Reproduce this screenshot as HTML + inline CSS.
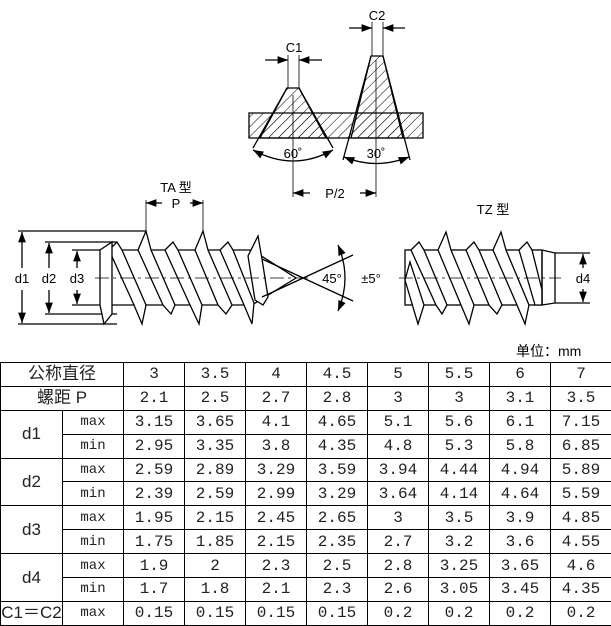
<!DOCTYPE html>
<html><head><meta charset="utf-8"><style>
html,body{margin:0;padding:0;background:#fff;width:611px;height:626px;overflow:hidden;position:relative}
svg{position:absolute;left:0;top:0}
table{position:absolute;left:0;top:362px;border-collapse:collapse;table-layout:fixed;width:611px;font-family:"Liberation Mono","Noto Sans CJK SC",monospace;font-size:16px;color:#222}
td{border:1.5px solid #000;height:22.4px;padding:0;text-align:center;line-height:22px}
tr{height:23.9px}
.cn{font-family:"Liberation Sans","Noto Sans CJK SC",sans-serif;font-size:17px}
.sm{font-size:14px}
.unit{position:absolute;left:516px;top:341px;font-family:"Liberation Sans","Noto Sans CJK SC",sans-serif;font-size:14px}
</style></head><body>
<svg width="611" height="362" viewBox="0 0 611 362" font-family="Liberation Sans, Noto Sans CJK SC, sans-serif">
<defs>
<pattern id="h" width="7" height="7" patternUnits="userSpaceOnUse" patternTransform="rotate(45)"><line x1="0" y1="0" x2="0" y2="7" stroke="#000" stroke-width="1"/></pattern>
<marker id="a" markerWidth="8" markerHeight="6" refX="8" refY="3" orient="auto-start-reverse"><path d="M0,0 L8,3 L0,6 z" fill="#000"/></marker>
</defs>
<g stroke="#000" fill="none" stroke-width="1.3">
<path d="M249,113 H423 V138 H249 Z" fill="url(#h)"/>
<path d="M287,88 H299 L326,138 H260 Z" fill="url(#h)"/>
<path d="M371,56 H383 L403,138 H351 Z" fill="url(#h)"/>
<line x1="287" y1="88" x2="253" y2="148"/><line x1="299" y1="88" x2="333" y2="148"/>
<line x1="371" y1="56" x2="343" y2="160"/><line x1="383" y1="56" x2="410" y2="160"/>
<path d="M253,150 Q293,172 333,150" marker-start="url(#a)" marker-end="url(#a)"/>
<path d="M344,157 Q376,170 409,157" marker-start="url(#a)" marker-end="url(#a)"/>
<line x1="293" y1="95" x2="293" y2="197" stroke-width="0.8"/>
<line x1="376" y1="60" x2="376" y2="197" stroke-width="0.8"/>
<line x1="288" y1="88" x2="288" y2="55" stroke-width="0.8"/><line x1="299" y1="88" x2="299" y2="55" stroke-width="0.8"/>
<line x1="265" y1="60" x2="288" y2="60" marker-end="url(#a)"/><line x1="322" y1="60" x2="299" y2="60" marker-end="url(#a)"/>
<line x1="372" y1="56" x2="372" y2="22" stroke-width="0.8"/><line x1="383" y1="56" x2="383" y2="22" stroke-width="0.8"/>
<line x1="349" y1="28" x2="372" y2="28" marker-end="url(#a)"/><line x1="405" y1="28" x2="383" y2="28" marker-end="url(#a)"/>
<line x1="310" y1="193" x2="293" y2="193" marker-end="url(#a)"/><line x1="360" y1="193" x2="376" y2="193" marker-end="url(#a)"/>

<line x1="18" y1="231" x2="146" y2="231"/><line x1="18" y1="324" x2="117" y2="324"/>
<line x1="45" y1="242" x2="117" y2="242"/><line x1="45" y1="314" x2="117" y2="314"/>
<line x1="72" y1="250" x2="105" y2="250"/><line x1="72" y1="305" x2="105" y2="305"/>
<line x1="22" y1="232" x2="22" y2="268" marker-start="url(#a)"/><line x1="22" y1="290" x2="22" y2="323" marker-end="url(#a)"/>
<line x1="49" y1="243" x2="49" y2="268" marker-start="url(#a)"/><line x1="49" y1="290" x2="49" y2="313" marker-end="url(#a)"/>
<line x1="77" y1="251" x2="77" y2="268" marker-start="url(#a)"/><line x1="77" y1="290" x2="77" y2="304" marker-end="url(#a)"/>
<line x1="146" y1="231" x2="146" y2="200" stroke-width="0.8"/><line x1="203" y1="231" x2="203" y2="200" stroke-width="0.8"/>
<line x1="162" y1="203" x2="146" y2="203" marker-end="url(#a)"/><line x1="190" y1="203" x2="203" y2="203" marker-end="url(#a)"/>
<path d="M105,250 H252 L296,278 L252,305 H105 Z" fill="#fff"/>
<g fill="#fff">
<polygon points="109,250 117,242 122,250 146,305 142,324 134,305"/>
<polygon points="138,250 146,231 151,250 175,305 171,314 163,305"/>
<polygon points="165,250 173,242 178,250 202,305 199,324 190,305"/>
<polygon points="195,250 203,231 208,250 232,305 226,314 218,305"/>
<polygon points="220,250 228,242 233,250 254,303 252,324 244,305"/>
<polygon points="248,256 258,236 262,259 268,297 263,305 255,300"/>
<polygon points="100,250 112,242 112,314 104,324 100,305"/>
</g>
<line x1="95" y1="278" x2="308" y2="278" stroke-dasharray="14,4,3,4" stroke-width="0.8"/>
<line x1="262" y1="259" x2="353" y2="301"/><line x1="262" y1="297" x2="353" y2="255"/>
<path d="M338,245 Q352,278 338,311" marker-start="url(#a)" marker-end="url(#a)"/>

<rect x="405" y="250" width="137" height="55" fill="#fff"/>
<g fill="#fff">
<polygon points="411,250 419,242 424,250 447,305 442,314 436,305"/>
<polygon points="438,250 446,232 451,250 474,305 469,324 461,305"/>
<polygon points="466,250 474,242 479,250 502,305 497,314 489,305"/>
<polygon points="493,250 501,232 506,250 529,305 525,324 517,305"/>
<polygon points="519,250 527,242 532,250 542,290 542,305 535,305"/>
<polygon points="405,280 418,324 424,305 410,262"/>
</g>
<path d="M542,250 L555,253 L555,303 L542,305" />
<line x1="542" y1="250" x2="542" y2="305"/>
<line x1="555" y1="253" x2="590" y2="253"/><line x1="555" y1="303" x2="590" y2="303"/>
<line x1="583" y1="254" x2="583" y2="268" marker-start="url(#a)"/><line x1="583" y1="289" x2="583" y2="302" marker-end="url(#a)"/>
<line x1="399" y1="278" x2="561" y2="278" stroke-dasharray="14,4,3,4" stroke-width="0.8"/>
</g>
<g font-size="13" fill="#000" text-anchor="middle">
<text x="294" y="52">C1</text><text x="377" y="20">C2</text>
<text x="293" y="158">60˚</text><text x="376" y="158">30˚</text>
<text x="335" y="198">P/2</text>
<text x="176" y="192">TA 型</text><text x="176" y="208">P</text>
<text x="493" y="214">TZ 型</text>
<text x="22" y="283">d1</text><text x="49" y="283">d2</text><text x="77" y="283">d3</text>
<text x="332" y="283">45°</text><text x="371" y="283">±5°</text>
<text x="583" y="283">d4</text>
</g>
</svg>
<div class="unit">单位：mm</div>
<table>
<colgroup><col style="width:62px"><col style="width:61px"><col span="8" style="width:61px"></colgroup>
<tr><td colspan="2" class="cn">公称直径</td><td>3</td><td>3.5</td><td>4</td><td>4.5</td><td>5</td><td>5.5</td><td>6</td><td>7</td></tr>
<tr><td colspan="2" class="cn">螺距 P</td><td>2.1</td><td>2.5</td><td>2.7</td><td>2.8</td><td>3</td><td>3</td><td>3.1</td><td>3.5</td></tr>
<tr><td rowspan="2" class="cn">d1</td><td class="sm">max</td><td>3.15</td><td>3.65</td><td>4.1</td><td>4.65</td><td>5.1</td><td>5.6</td><td>6.1</td><td>7.15</td></tr>
<tr><td class="sm">min</td><td>2.95</td><td>3.35</td><td>3.8</td><td>4.35</td><td>4.8</td><td>5.3</td><td>5.8</td><td>6.85</td></tr>
<tr><td rowspan="2" class="cn">d2</td><td class="sm">max</td><td>2.59</td><td>2.89</td><td>3.29</td><td>3.59</td><td>3.94</td><td>4.44</td><td>4.94</td><td>5.89</td></tr>
<tr><td class="sm">min</td><td>2.39</td><td>2.59</td><td>2.99</td><td>3.29</td><td>3.64</td><td>4.14</td><td>4.64</td><td>5.59</td></tr>
<tr><td rowspan="2" class="cn">d3</td><td class="sm">max</td><td>1.95</td><td>2.15</td><td>2.45</td><td>2.65</td><td>3</td><td>3.5</td><td>3.9</td><td>4.85</td></tr>
<tr><td class="sm">min</td><td>1.75</td><td>1.85</td><td>2.15</td><td>2.35</td><td>2.7</td><td>3.2</td><td>3.6</td><td>4.55</td></tr>
<tr><td rowspan="2" class="cn">d4</td><td class="sm">max</td><td>1.9</td><td>2</td><td>2.3</td><td>2.5</td><td>2.8</td><td>3.25</td><td>3.65</td><td>4.6</td></tr>
<tr><td class="sm">min</td><td>1.7</td><td>1.8</td><td>2.1</td><td>2.3</td><td>2.6</td><td>3.05</td><td>3.45</td><td>4.35</td></tr>
<tr><td class="cn">C1＝C2</td><td class="sm">max</td><td>0.15</td><td>0.15</td><td>0.15</td><td>0.15</td><td>0.2</td><td>0.2</td><td>0.2</td><td>0.2</td></tr>
</table>
</body></html>
